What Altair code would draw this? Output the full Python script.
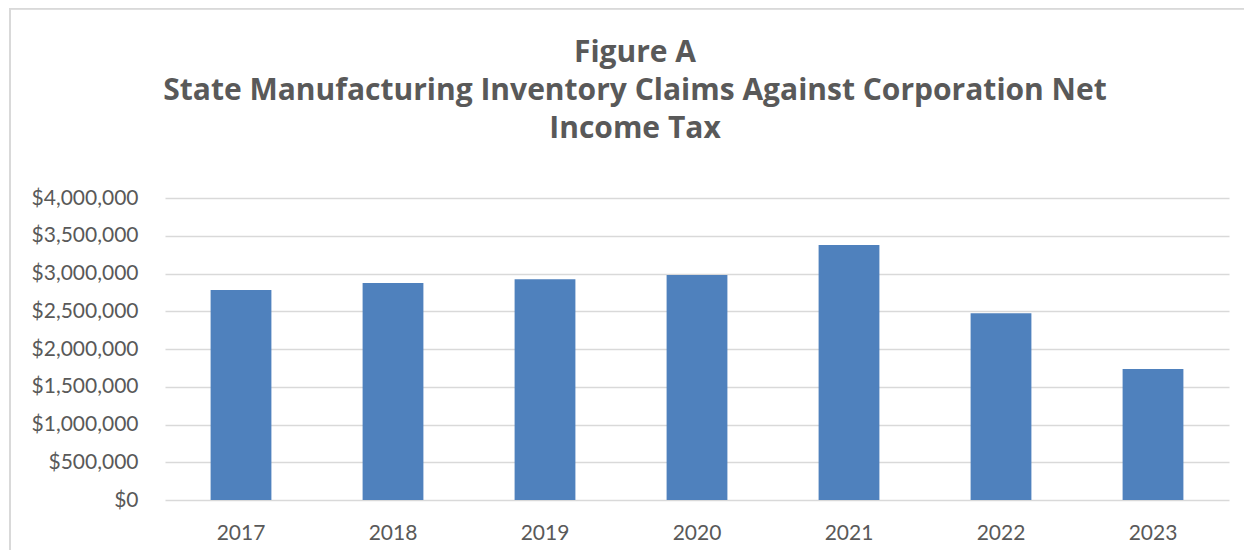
import altair as alt
import pandas as pd

years = ["2017", "2018", "2019", "2020", "2021", "2022", "2023"]
claims = [2780000, 2875000, 2923000, 2980000, 3377000, 2473000, 1735000]
title_lines = ["Figure A",
               "State Manufacturing Inventory Claims Against Corporation Net",
               "Income Tax"]

df = pd.DataFrame({"year": years, "claims": claims})

W, H = 1064, 302
FONT = "Lato"
TFONT = "Open Sans"
GRAY = "#595959"

bars = alt.Chart(df).mark_bar(color="#4f81bd").encode(
    x=alt.X("year:N", sort=years, title=None,
            scale=alt.Scale(paddingInner=0.6, paddingOuter=0.3),
            axis=alt.Axis(labelAngle=0, labelFont=FONT, labelFontSize=21,
                          labelColor=GRAY, labelPadding=22, domain=False,
                          ticks=False, grid=False)),
    y=alt.Y("claims:Q", title=None,
            scale=alt.Scale(domain=[0, 4000000], nice=False),
            axis=alt.Axis(values=[0, 500000, 1000000, 1500000, 2000000, 2500000,
                                  3000000, 3500000, 4000000],
                          format="$,.0f", labelFont=FONT, labelFontSize=21,
                          labelColor=GRAY, labelPadding=27, domain=False,
                          ticks=False, gridColor="#d9d9d9", gridWidth=1.5)),
)

border = alt.Chart(df).mark_rect(fill=None, stroke="#d9d9d9", strokeWidth=1.5).encode(
    x=alt.value(-155), x2=alt.value(1135), y=alt.value(-189.5), y2=alt.value(420)
)

title_layers = []
for txt, yb in zip(title_lines, [-136, -98, -60]):
    title_layers.append(
        alt.Chart(pd.DataFrame({"t": [txt]})).mark_text(
            font=TFONT, fontSize=30, fontWeight="bold", color=GRAY,
            align="center", baseline="alphabetic"
        ).encode(text="t:N", x=alt.value(470), y=alt.value(yb))
    )

chart = alt.layer(border, bars, *title_layers).properties(
    width=W, height=H,
    autosize=alt.AutoSizeParams(type="none"),
    padding={"left": 157, "top": 190, "right": 15, "bottom": 50},
).configure_view(stroke=None)

chart.save("out.html", embed_options={"renderer": "svg", "actions": False})
